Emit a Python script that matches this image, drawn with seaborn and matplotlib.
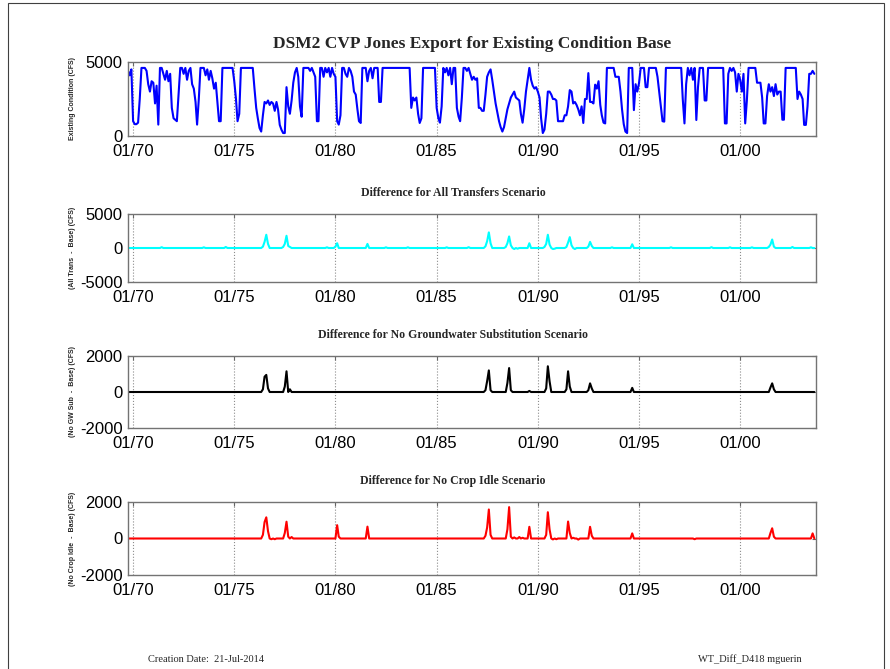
import matplotlib
matplotlib.use("Agg")
import matplotlib.pyplot as plt
import matplotlib.dates as mdates
from matplotlib.patches import Rectangle
import seaborn as sns
import pandas as pd

# Monthly series, CFS, starting Oct 1969
start_month = "1969-10"

existing_cfs = [
    4400, 4100, 4500,
    1000, 800, 800, 900, 2500, 4600, 4600, 4600, 4400, 3500, 3000, 3700,
    3600, 2200, 3400, 770, 4600, 4600, 4200, 3800, 4400, 3700, 4200, 1900,
    1200, 1100, 1000, 2800, 4600, 4600, 4200, 4600, 3800, 4400, 4600, 3500,
    3200, 2300, 770, 2500, 4600, 4600, 4600, 4100, 4500, 3800, 4400, 3900,
    3200, 3600, 2400, 1000, 1000, 4600, 4600, 4600, 4600, 4600, 4600, 4600,
    3700, 2500, 1000, 1500, 4600, 4600, 4600, 4600, 4600, 4600, 4600, 4600,
    3200, 1900, 1200, 540, 300, 1400, 2300, 2200, 2400, 2100, 2300, 2200,
    1700, 2300, 1800, 750, 430, 200, 200, 3300, 2000, 1500, 2400, 3600,
    4300, 4600, 4000, 2000, 1300, 4600, 4600, 4600, 4600, 4400, 4600, 4300,
    4000, 1000, 1000, 4600, 4600, 4000, 4600, 4300, 4600, 4000, 4600, 4200,
    4000, 1000, 770, 1400, 4600, 4600, 4200, 4000, 4600, 4400, 4000, 3000,
    2800, 1800, 1000, 880, 4600, 4600, 4600, 3700, 4400, 4600, 3900, 4600,
    4600, 4600, 2300, 2300, 4600, 4600, 4600, 4600, 4600, 4600, 4600, 4600,
    4600, 4600, 4600, 4600, 4600, 4600, 4600, 4600, 4600, 1900, 2600, 2400,
    2600, 1500, 880, 1200, 4600, 4600, 4600, 4600, 4600, 4600, 4600, 4600,
    1900, 1200, 900, 2000, 4600, 4300, 4600, 4100, 4600, 3500, 4600, 4600,
    1900, 1300, 1000, 2600, 4600, 4600, 4400, 4600, 4200, 3800, 4000, 3800,
    3900, 1900, 1900, 1700, 1700, 2800, 4000, 4300, 4500, 3800, 3000, 2200,
    1600, 1000, 600, 300, 600, 1200, 1800, 2200, 2600, 2800, 3000, 2600,
    2500, 2400, 1500, 900, 1800, 3000, 3800, 4600, 3800, 3400, 3200, 3300,
    3000, 2600, 1200, 200, 430, 1500, 3000, 3000, 2800, 2500, 2500, 2400,
    1000, 1000, 1000, 1000, 1400, 1400, 2000, 3100, 3000, 2200, 2300, 2100,
    1800, 1400, 2000, 880, 2500, 2500, 4250, 2300, 2300, 2200, 3470, 3200,
    3700, 2100, 1400, 900, 850, 4600, 4600, 4600, 4600, 4600, 4000, 4000,
    4000, 3000, 1800, 800, 300, 200, 4600, 4600, 4600, 1750, 3500, 3000,
    3560, 4600, 4600, 4600, 3300, 3300, 4600, 4600, 4600, 4600, 4600, 4000,
    3000, 2000, 1000, 970, 4600, 4600, 4600, 4600, 4600, 4600, 4600, 4600,
    4600, 4600, 2500, 850, 3500, 4600, 4100, 4600, 3800, 4600, 1080, 3300,
    4600, 4600, 4600, 2400, 2400, 4600, 4600, 4600, 4600, 4600, 4600, 4600,
    4600, 4600, 4600, 850, 850, 4200, 4600, 4400, 4600, 4300, 3000, 4200,
    3800, 3000, 4200, 850, 2400, 4600, 4600, 4600, 4600, 4600, 3600, 3600,
    3600, 2600, 850, 850, 2700, 3500, 3000, 3300, 2700, 3500, 2800, 3000,
    3000, 1100, 1100, 4600, 4600, 4600, 4600, 4600, 4600, 4600, 2500, 3000,
    2800, 2500, 750, 750, 2000, 4200, 4200, 4400, 4200,
]

# Difference scenarios: months that are not listed read as 0
transfer_months = [
    "1971-06", "1973-07", "1974-08", "1976-06", "1976-07", "1976-08",
    "1976-09", "1977-06", "1977-07", "1977-08", "1977-09", "1977-10",
    "1979-08", "1980-01", "1980-02", "1981-08", "1982-07", "1983-08",
    "1985-07", "1986-08", "1987-06", "1987-07", "1987-08", "1987-09",
    "1988-06", "1988-07", "1988-08", "1988-09", "1988-11", "1989-01",
    "1989-08", "1990-05", "1990-06", "1990-07", "1990-08", "1990-10",
    "1990-11", "1991-06", "1991-07", "1991-08", "1991-09", "1991-11",
    "1992-07", "1992-08", "1992-09", "1993-09", "1994-09", "1996-08",
    "1998-08", "1999-07", "2000-08", "2001-06", "2001-07", "2001-08",
    "2001-09", "2002-08", "2003-07",
]
transfer_cfs = [
    120, 100, 150, 200, 900, 1950,
    600, 150, 600, 1800, 300, 150,
    100, 200, 700, 600, 100, 100,
    100, 120, 250, 1000, 2300, 700,
    150, 700, 1700, 400, -150, -100,
    700, 150, 600, 1950, 500, -150,
    -100, 150, 800, 1600, 400, -150,
    200, 900, 300, 100, 550, 100,
    120, 100, 100, 150, 500, 1250,
    200, 150, 100,
]

gw_sub_months = [
    "1976-06", "1976-07", "1976-08", "1976-09", "1977-07", "1977-08",
    "1977-10", "1987-06", "1987-07", "1987-08", "1987-09", "1988-07",
    "1988-08", "1988-09", "1989-08", "1990-06", "1990-07", "1990-08",
    "1991-06", "1991-07", "1991-08", "1992-07", "1992-08", "1992-09",
    "1994-09", "2001-07", "2001-08", "2001-09",
]
gw_sub_cfs = [
    150, 850, 950, 200, 300, 1150,
    150, 100, 600, 1200, 100, 500,
    1330, 100, 60, 200, 1430, 600,
    150, 1150, 300, 100, 480, 200,
    230, 250, 480, 150,
]

crop_idle_months = [
    "1976-06", "1976-07", "1976-08", "1976-09", "1976-11", "1977-01",
    "1977-07", "1977-08", "1977-09", "1977-11", "1980-02", "1980-03",
    "1981-08", "1987-06", "1987-07", "1987-08", "1987-09", "1988-07",
    "1988-08", "1988-09", "1988-11", "1989-02", "1989-04", "1989-08",
    "1990-06", "1990-07", "1990-08", "1990-10", "1990-12", "1991-07",
    "1991-08", "1991-10", "1992-01", "1992-08", "1992-09", "1994-09",
    "1997-10", "2001-07", "2001-08", "2001-09", "2003-08",
]
crop_idle_cfs = [
    200, 900, 1160, 400, -40, -40,
    300, 920, 100, 80, 730, 100,
    650, 150, 600, 1590, 200, 500,
    1720, 100, 60, 80, 40, 640,
    200, 1440, 500, -50, -40, 930,
    300, 40, -60, 640, 150, 280,
    -40, 300, 560, 100, 280,
]

sns.set_style("white")
plt.rcParams["font.family"] = ["Liberation Sans", "DejaVu Sans"]
plt.rcParams["axes.unicode_minus"] = False

dates = pd.date_range(start_month, periods=len(existing_cfs), freq="MS")


def diff_series(months, values):
    s = pd.Series(0.0, index=dates)
    s.loc[pd.to_datetime(months)] = values
    return s


panels = [
    (pd.Series(existing_cfs, index=dates, dtype=float), "#0000ff", (0, 5000), [0, 5000],
     "Existing Condition (CFS)", None, (62, 136)),
    (diff_series(transfer_months, transfer_cfs), "#00ffff", (-5000, 5000), [-5000, 0, 5000],
     "(All Trans  -  Base) (CFS)", "Difference for All Transfers Scenario", (214, 282)),
    (diff_series(gw_sub_months, gw_sub_cfs), "black", (-2000, 2000), [-2000, 0, 2000],
     "(No GW Sub  -  Base) (CFS)", "Difference for No Groundwater Substitution Scenario", (356, 428)),
    (diff_series(crop_idle_months, crop_idle_cfs), "#ff0000", (-2000, 2000), [-2000, 0, 2000],
     "(No Crop Idle  -  Base) (CFS)", "Difference for No Crop Idle Scenario", (502, 575)),
]

W, H = 890, 669
fig = plt.figure(figsize=(W / 100, H / 100), dpi=100)

for series, color, ylim, yticks, ylabel, subtitle, (top, bottom) in panels:
    ax = fig.add_axes([128 / W, 1 - bottom / H, 688 / W, (bottom - top) / H])
    df = pd.DataFrame({"date": series.index, "cfs": series.values})
    sns.lineplot(data=df, x="date", y="cfs", color=color, linewidth=1.5, ax=ax)
    ax.set_xlim(dates[0], pd.Timestamp("2003-10-01"))
    ax.set_ylim(*ylim)
    ax.set_yticks(yticks)
    ax.set_xticks(pd.to_datetime(["1970-01-01", "1975-01-01", "1980-01-01", "1985-01-01",
                                  "1990-01-01", "1995-01-01", "2000-01-01"]))
    ax.xaxis.set_major_formatter(mdates.DateFormatter("%m/%y"))
    ax.xaxis.grid(True, linestyle=":", color="0.55", linewidth=0.8)
    ax.yaxis.grid(False)
    ax.set_xlabel("")
    ax.set_ylabel("")
    ax.tick_params(direction="in", length=3, labelsize=12, top=True, right=True,
                   colors="0.4", labelcolor="black")
    ax.tick_params(axis="x", pad=6)
    ax.tick_params(axis="y", pad=4)
    for sp in ax.spines.values():
        sp.set_color("0.45")
        sp.set_linewidth(1.0)
    # rotated y label
    fig.text(73 / W, 1 - (top + bottom) / 2 / H, ylabel, rotation=90,
             ha="center", va="center", fontsize=5, fontweight="bold")
    if subtitle:
        fig.text(453 / W, 1 - (top - 21) / H, subtitle, ha="center", va="center",
                 fontsize=8.5, fontweight="bold", family="Liberation Serif")

fig.text(472 / W, 1 - 44 / H, "DSM2 CVP Jones Export for Existing Condition Base",
         ha="center", va="center", fontsize=12.5, fontweight="bold", family="Liberation Serif")

fig.text(148 / W, 1 - 659 / H, "Creation Date:  21-Jul-2014", ha="left", va="center",
         fontsize=7.5, family="Liberation Serif")
fig.text(802 / W, 1 - 659 / H, "WT_Diff_D418 mguerin", ha="right", va="center",
         fontsize=7.5, family="Liberation Serif")

# page frame
fig.patches.append(Rectangle((8 / W, -0.01), 876 / W, 1.01 - 3 / H, transform=fig.transFigure,
                             fill=False, edgecolor="0.25", linewidth=0.8))

fig.savefig("out.png", dpi=100, facecolor="white")
